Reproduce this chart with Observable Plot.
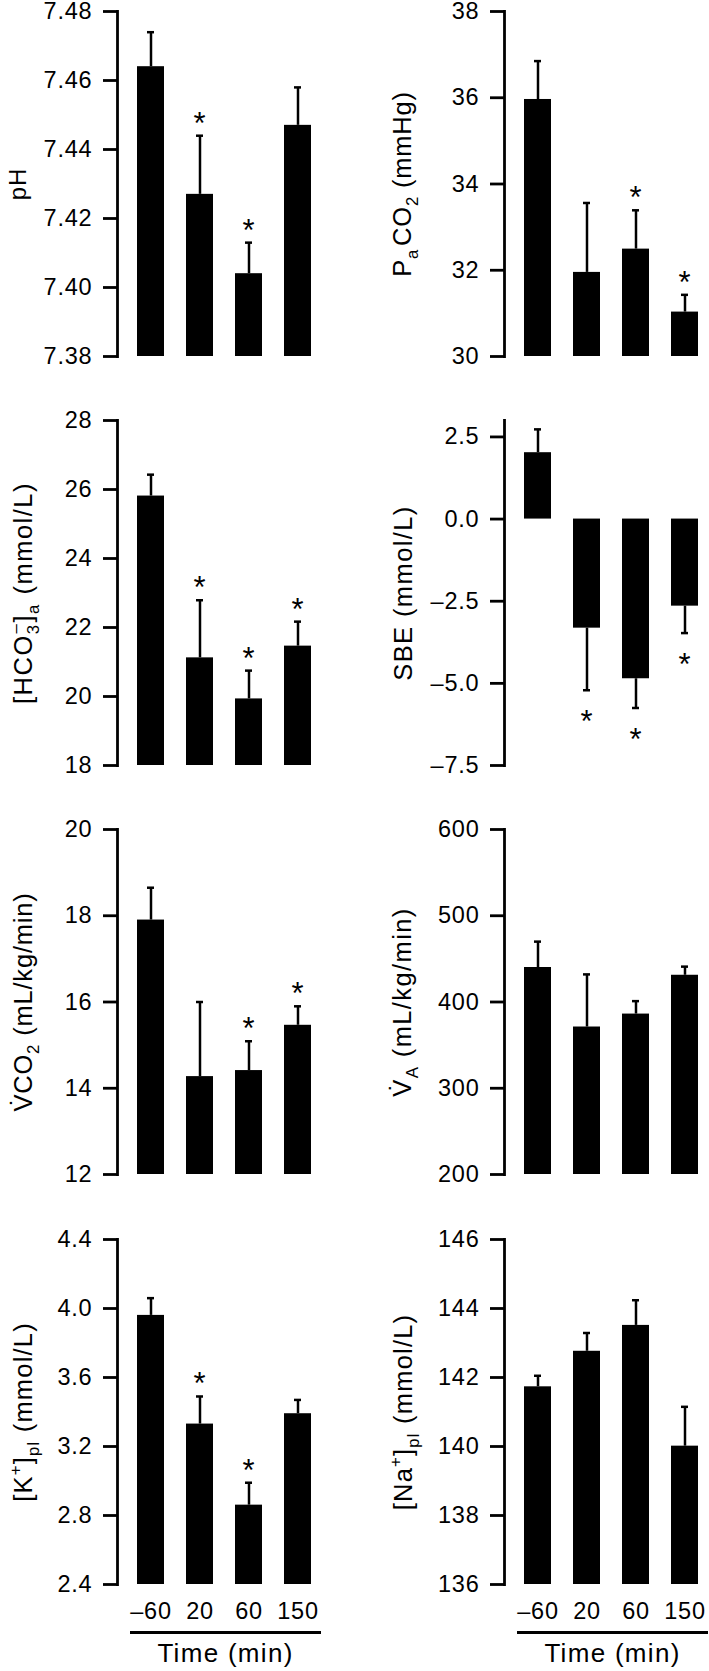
<!DOCTYPE html>
<html><head><meta charset="utf-8">
<script src="https://cdn.jsdelivr.net/npm/d3@7"></script>
<script src="https://cdn.jsdelivr.net/npm/@observablehq/plot@0.6"></script>
<style>
body{margin:0;background:#fff;}
#fig{position:relative;width:709px;height:1671px;overflow:hidden;background:#fff;font-family:"Liberation Sans",Arial,sans-serif;color:#000;}
.panel{position:absolute;}
.rule{position:absolute;height:0;border-top:3px solid #000;}
.xtitle{position:absolute;font-size:26px;letter-spacing:1.3px;line-height:26px;text-align:center;white-space:nowrap;}
</style></head><body><div id="fig"></div>
<script>
// categories
const times = ["–60", "20", "60", "150"];

// series (mean, SE, significance flag)
const phMean = [7.464, 7.427, 7.404, 7.447];
const phErr = [0.010, 0.017, 0.009, 0.011];
const phStar = [0, 1, 1, 0];
const phTicks = [7.38, 7.40, 7.42, 7.44, 7.46, 7.48];

const pco2Mean = [35.96, 31.95, 32.49, 31.03];
const pco2Err = [0.89, 1.61, 0.90, 0.40];
const pco2Star = [0, 0, 1, 1];
const pco2Ticks = [30, 32, 34, 36, 38];

const hco3Mean = [25.81, 21.12, 19.93, 21.46];
const hco3Err = [0.62, 1.67, 0.82, 0.71];
const hco3Star = [0, 1, 1, 1];
const hco3Ticks = [18, 20, 22, 24, 26, 28];

const sbeMean = [2.02, -3.32, -4.86, -2.65];
const sbeErr = [0.71, 1.89, 0.89, 0.82];
const sbeStar = [0, 1, 1, 1];
const sbeTicks = [-7.5, -5.0, -2.5, 0.0, 2.5];

const vco2Mean = [17.90, 14.27, 14.41, 15.46];
const vco2Err = [0.75, 1.73, 0.68, 0.44];
const vco2Star = [0, 0, 1, 1];
const vco2Ticks = [12, 14, 16, 18, 20];

const vaMean = [440, 371, 386, 431];
const vaErr = [30, 61, 15, 10];
const vaStar = [0, 0, 0, 0];
const vaTicks = [200, 300, 400, 500, 600];

const kMean = [3.96, 3.33, 2.86, 3.39];
const kErr = [0.10, 0.16, 0.13, 0.08];
const kStar = [0, 1, 1, 0];
const kTicks = [2.4, 2.8, 3.2, 3.6, 4.0, 4.4];

const naMean = [141.73, 142.76, 143.51, 140.01];
const naErr = [0.32, 0.53, 0.73, 1.14];
const naStar = [0, 0, 0, 0];
const naTicks = [136, 138, 140, 142, 144, 146];

// axis titles (segments: plain / sub / sup)
const phLabel = [{t: "pH"}];
const pco2Label = [{t: "P"}, {t: "a", s: "sub"}, {t: "CO", dx: 3}, {t: "2", s: "sub"}, {t: " (mmHg)"}];
const hco3Label = [{t: "[HCO"}, {t: "3", s: "sub"}, {t: "–", s: "sup", dx: -10}, {t: "]"}, {t: "a", s: "sub"}, {t: " (mmol/L)"}];
const sbeLabel = [{t: "SBE (mmol/L)"}];
const vco2Label = [{t: "V\u0307CO"}, {t: "2", s: "sub"}, {t: " (mL/kg/min)"}];
const vaLabel = [{t: "V\u0307"}, {t: "A", s: "sub"}, {t: " (mL/kg/min)"}];
const kLabel = [{t: "[K"}, {t: "+", s: "sup"}, {t: "]"}, {t: "pl", s: "sub"}, {t: " (mmol/L)"}];
const naLabel = [{t: "[Na"}, {t: "+", s: "sup"}, {t: "]"}, {t: "pl", s: "sub"}, {t: " (mmol/L)"}];

const xTitle = "Time (min)";

const f2 = d => d.toFixed(2);
const f1 = d => (d < 0 ? "–" : "") + Math.abs(d).toFixed(1);
const f0 = d => String(d);

const panels = [
  {row: 0, col: 0, mean: phMean, err: phErr, star: phStar, ticks: phTicks, domain: [7.38, 7.48], base: 7.38, fmt: f2, label: phLabel, lfs: 24, ls: 1, loff: 109},
  {row: 0, col: 1, mean: pco2Mean, err: pco2Err, star: pco2Star, ticks: pco2Ticks, domain: [30, 38], base: 30, fmt: f0, label: pco2Label, lfs: 25.5, ls: 0.8, loff: 112},
  {row: 1, col: 0, mean: hco3Mean, err: hco3Err, star: hco3Star, ticks: hco3Ticks, domain: [18, 28], base: 18, fmt: f0, label: hco3Label, lfs: 25.5, ls: 1.5, loff: 104},
  {row: 1, col: 1, mean: sbeMean, err: sbeErr, star: sbeStar, ticks: sbeTicks, domain: [-7.5, 3], base: 0, fmt: f1, label: sbeLabel, lfs: 25.5, ls: 1.4, loff: 111},
  {row: 2, col: 0, mean: vco2Mean, err: vco2Err, star: vco2Star, ticks: vco2Ticks, domain: [12, 20], base: 12, fmt: f0, label: vco2Label, lfs: 25.5, ls: 0.8, loff: 104},
  {row: 2, col: 1, mean: vaMean, err: vaErr, star: vaStar, ticks: vaTicks, domain: [200, 600], base: 200, fmt: f0, label: vaLabel, lfs: 25.5, ls: 1.4, loff: 112},
  {row: 3, col: 0, mean: kMean, err: kErr, star: kStar, ticks: kTicks, domain: [2.4, 4.4], base: 2.4, fmt: f1, label: kLabel, lfs: 25.5, ls: 1.2, loff: 104},
  {row: 3, col: 1, mean: naMean, err: naErr, star: naStar, ticks: naTicks, domain: [136, 146], base: 136, fmt: f0, label: naLabel, lfs: 25.5, ls: 1.2, loff: 111}
];

const FONT = '"Liberation Sans", Arial, Helvetica, sans-serif';
const SVGNS = "http://www.w3.org/2000/svg";
const rowTops = [0, 409, 818, 1228];
const colLefts = [0, 387];
const fig = document.getElementById("fig");

function setRich(textEl, segs, fs) {
  while (textEl.firstChild) textEl.removeChild(textEl.firstChild);
  let cur = 0;
  for (const s of segs) {
    const ts = document.createElementNS(SVGNS, "tspan");
    const shift = s.s === "sub" ? 0.28 * fs : s.s === "sup" ? -0.42 * fs : 0;
    if (shift - cur !== 0) ts.setAttribute("dy", shift - cur);
    cur = shift;
    if (s.s) ts.style.fontSize = (fs * 0.66).toFixed(1) + "px";
    if (s.dx) ts.setAttribute("dx", s.dx);
    ts.textContent = s.t;
    textEl.appendChild(ts);
  }
}

for (const p of panels) {
  const data = times.map((t, i) => ({t, v: p.mean[i], e: p.err[i], s: p.star[i]}));
  const up = d => d.v >= p.base;
  const tip = d => up(d) ? d.v + d.e : d.v - d.e;
  const last = p.row === 3;
  const width = p.col === 0 ? 387 : 322;
  const height = last ? 443 : 409;
  const chart = Plot.plot({
    width, height,
    marginLeft: 117, marginRight: 0, marginTop: 11, marginBottom: height - 11 - 345,
    style: {fontFamily: FONT, fontSize: "23.5px", color: "#000", background: "transparent", overflow: "visible", letterSpacing: "0.8px"},
    x: {type: "band", domain: times, range: [137, 311], paddingInner: 0.449, paddingOuter: 0, axis: null},
    y: {domain: p.domain, axis: null},
    marks: [
      Plot.barY(data, {x: "t", y1: p.base, y2: "v", fill: "#000"}),
      Plot.ruleX(data, {x: "t", y1: "v", y2: tip, stroke: "#000", strokeWidth: 2.5}),
      Plot.tickY(data, {x: "t", y: tip, stroke: "#000", strokeWidth: 2.5, insetLeft: 10, insetRight: 10}),
      Plot.text(data.filter(d => d.s && up(d)), {x: "t", y: tip, text: () => "*", fontSize: 31, lineAnchor: "bottom", dy: -2, fill: "#000"}),
      Plot.text(data.filter(d => d.s && !up(d)), {x: "t", y: tip, text: () => "*", fontSize: 31, lineAnchor: "bottom", dy: 42, fill: "#000"}),
      Plot.frame({anchor: "left", stroke: "#000", strokeWidth: 2.8}),
      Plot.axisY({ticks: p.ticks, tickFormat: p.fmt, tickSize: 14, tickPadding: 11, strokeWidth: 2.8, fontSize: 23.5,
                  label: "y", labelAnchor: "center", labelOffset: p.loff, labelArrow: "none"}),
      last ? Plot.axisX({tickSize: 0, tickPadding: 18, fontSize: 23.5, label: null}) : null
    ]
  });
  const lab = chart.querySelector('[aria-label="y-axis label"] text');
  if (lab) {
    lab.style.fontSize = p.lfs + "px";
    lab.style.letterSpacing = p.ls + "px";
    lab.style.fontFamily = FONT;
    setRich(lab, p.label, p.lfs);
  }
  const wrap = document.createElement("div");
  wrap.className = "panel";
  wrap.style.left = colLefts[p.col] + "px";
  wrap.style.top = rowTops[p.row] + "px";
  wrap.appendChild(chart);
  fig.appendChild(wrap);
}

// time axis rules and titles under the bottom row
for (const c of [0, 1]) {
  const left = colLefts[c];
  const rule = document.createElement("div");
  rule.className = "rule";
  rule.style.left = (left + 130) + "px";
  rule.style.width = "191px";
  rule.style.top = "1631px";
  fig.appendChild(rule);
  const tt = document.createElement("div");
  tt.className = "xtitle";
  tt.style.left = (left + 120) + "px";
  tt.style.width = "211px";
  tt.style.top = "1640px";
  tt.textContent = xTitle;
  fig.appendChild(tt);
}
</script></body></html>
